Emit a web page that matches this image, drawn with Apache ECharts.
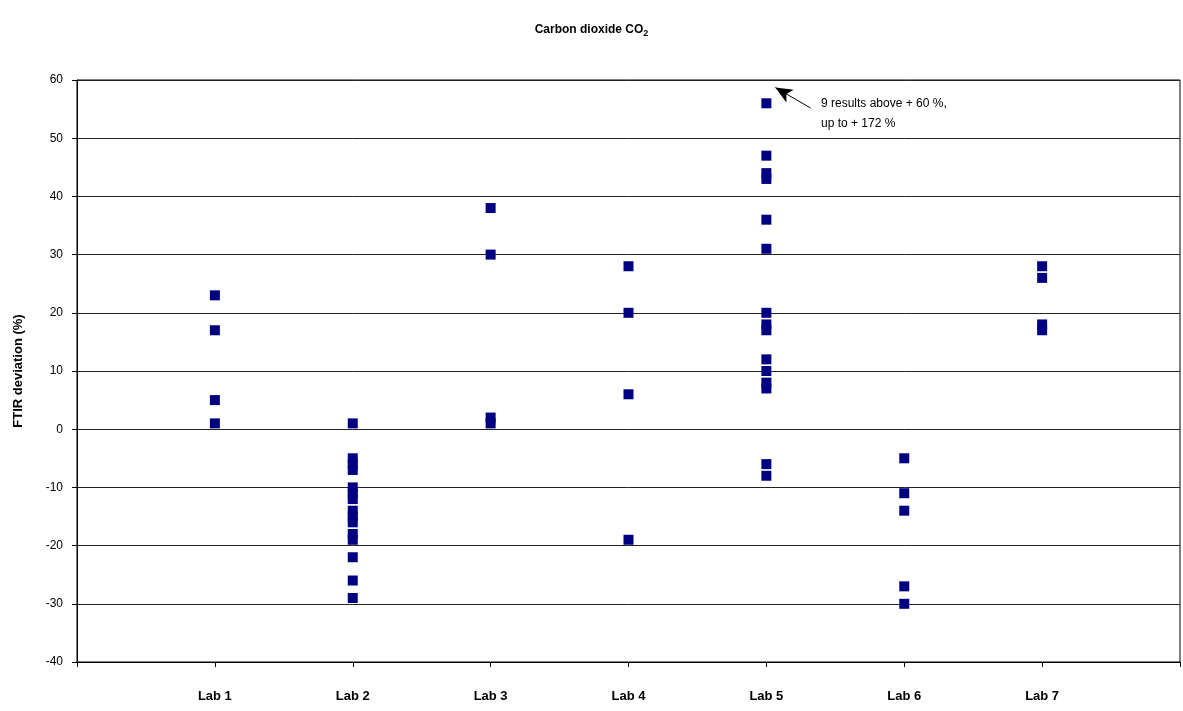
<!DOCTYPE html>
<html>
<head>
<meta charset="utf-8">
<script src="https://cdn.jsdelivr.net/npm/echarts@6/dist/echarts.min.js"></script>
<style>
html,body{margin:0;padding:0;background:#fff;}
#chart{width:1183px;height:711px;}
</style>
</head>
<body>
<div id="chart"></div>
<script>
const categories = ['Lab 1','Lab 2','Lab 3','Lab 4','Lab 5','Lab 6','Lab 7'];
const lab1 = [23, 17, 5, 1];
const lab2 = [1, -5, -6, -7, -10, -11, -12, -14, -15, -16, -18, -19, -22, -26, -29];
const lab3 = [38, 30, 2, 1];
const lab4 = [28, 20, 6, -19];
const lab5 = [56, 47, 44, 43, 36, 31, 20, 18, 17, 12, 10, 8, 7, -6, -8];
const lab6 = [-5, -11, -14, -27, -30];
const lab7 = [28, 26, 18, 17];
const yTicks = [-40, -30, -20, -10, 0, 10, 20, 30, 40, 50, 60];
const arrowFrom = [5.32, 55.2];
const arrowTo = [5.065, 58.7];
const noteLines = ['9 results above + 60 %,', 'up to + 172 %'];

const labs = [lab1, lab2, lab3, lab4, lab5, lab6, lab7];
const points = [];
labs.forEach((vals, i) => vals.forEach(v => points.push([i + 1, v])));

const chart = echarts.init(document.getElementById('chart'), null, {renderer: 'canvas'});
const font = 'Arial, "Liberation Sans", sans-serif';
chart.setOption({
  animation: false,
  backgroundColor: '#fff',
  title: {
    text: '{a|Carbon dioxide CO}{s|2}',
    left: 'center',
    top: 16,
    textStyle: {
      rich: {
        a: {fontFamily: font, fontWeight: 'bold', fontSize: 12, color: '#000'},
        s: {fontFamily: font, fontWeight: 'bold', fontSize: 9, color: '#000', padding: [8, 0, 0, 0]}
      }
    }
  },
  grid: {left: 77, right: 2, top: 80, bottom: 49, show: true, borderColor: '#000', borderWidth: 1},
  xAxis: {
    type: 'value', min: 0, max: 8, interval: 1,
    axisLine: {show: true, onZero: false, lineStyle: {color: '#000', width: 1}},
    axisTick: {show: true, length: 5, lineStyle: {color: '#000'}},
    splitLine: {show: false},
    axisLabel: {
      margin: 28,
      fontFamily: font, fontWeight: 'bold', fontSize: 13, color: '#000',
      formatter: v => (v >= 1 && v <= 7) ? categories[v - 1] : ''
    }
  },
  yAxis: {
    type: 'value', min: yTicks[0], max: yTicks[yTicks.length - 1], interval: 10,
    name: 'FTIR deviation (%)', nameLocation: 'middle', nameGap: 52,
    nameTextStyle: {fontFamily: font, fontWeight: 'bold', fontSize: 13, color: '#000'},
    axisLine: {show: true, lineStyle: {color: '#000', width: 1}},
    axisTick: {show: true, length: 5, lineStyle: {color: '#000'}},
    splitLine: {show: true, lineStyle: {color: '#222', width: 1}},
    axisLabel: {margin: 14, fontFamily: font, fontSize: 12, color: '#000'}
  },
  series: [{
    type: 'scatter',
    symbol: 'rect',
    symbolSize: 10,
    itemStyle: {color: '#000080', opacity: 1},
    data: points,
    markLine: {
      silent: true,
      symbol: ['none', 'arrow'],
      symbolSize: [11, 17],
      label: {show: false},
      lineStyle: {color: '#000', width: 1, type: 'solid', opacity: 1},
      data: [[{coord: arrowFrom}, {coord: arrowTo}]]
    }
  }],
  graphic: [{
    type: 'text',
    left: 821,
    top: 94,
    style: {
      text: noteLines.join('\n'),
      fontFamily: font, fontSize: 12, lineHeight: 20, fill: '#000'
    }
  }]
});
</script>
</body>
</html>
